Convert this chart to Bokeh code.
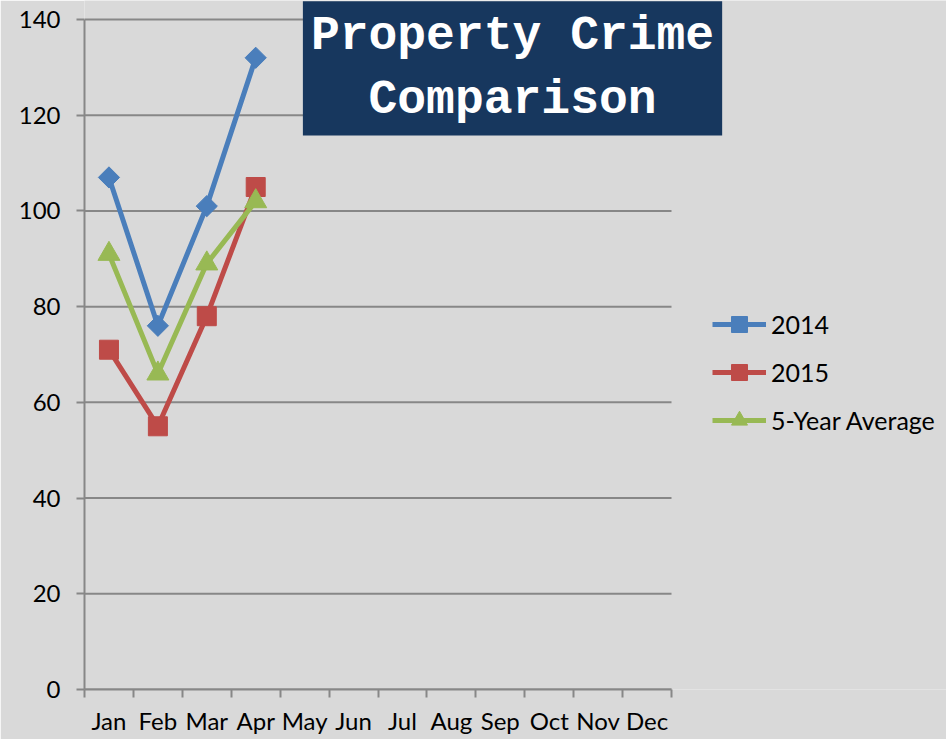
import math
from bokeh.plotting import figure
from bokeh.models import (Range1d, FixedTicker, LinearAxis, Legend, LegendItem, Label)
from bokeh.embed import file_html
from bokeh.resources import INLINE

# ---- data ----
months = ["Jan", "Feb", "Mar", "Apr", "May", "Jun", "Jul", "Aug", "Sep", "Oct", "Nov", "Dec"]
months_reported = ["Jan", "Feb", "Mar", "Apr"]
crimes_2014 = [107, 76, 101, 132]
crimes_2015 = [71, 55, 78, 105]
five_year_avg = [91, 66, 89, 102]
y_ticks = [0, 20, 40, 60, 80, 100, 120, 140]
title_text = "Property Crime\nComparison"

# category slot centres (category i occupies [i, i+1])
centre = {m: i + 0.5 for i, m in enumerate(months)}
x_rep = [centre[m] for m in months_reported]
n_months = len(months)
y_max = y_ticks[-1]

# ---- layout (pixels) ----
AXES_W, AXES_H = 587, 670          # size of the month/value axes area
FRAME_W, FRAME_H = 862, 689        # frame extends to the right & top to host title/legend
LEFT, BOTTOM = 84, 50

# ---- style ----
BG = "#d9d9d9"
GRID = "#878787"
C2014 = "#4a7ebb"
C2015 = "#be4b48"
CAVG = "#98b954"
FONT = "Lato"

p = figure(
    x_range=Range1d(0, n_months * FRAME_W / AXES_W),
    y_range=Range1d(0, y_max * FRAME_H / AXES_H),
    frame_width=FRAME_W, frame_height=FRAME_H,
    min_border_left=LEFT, min_border_right=0, min_border_top=0, min_border_bottom=BOTTOM,
    output_backend="svg", toolbar_location=None,
    x_axis_location=None,
    background_fill_color=BG, border_fill_color=BG,
    outline_line_color=None,
)

# grid lines (limited to the month span)
p.xgrid.visible = False
p.ygrid.visible = False
p.segment(x0=[0] * len(y_ticks), y0=y_ticks, x1=[n_months] * len(y_ticks), y1=y_ticks,
          line_color=GRID, line_width=2)

# y axis
yax = p.yaxis[0]
yax.ticker = FixedTicker(ticks=y_ticks)
yax.bounds = (0, y_max)
yax.axis_line_color = GRID
yax.axis_line_width = 2
yax.major_tick_line_color = GRID
yax.major_tick_line_width = 2
yax.major_tick_out = 8
yax.major_tick_in = 0
yax.minor_tick_line_color = None
yax.major_label_standoff = 16
yax.major_label_text_font = FONT
yax.major_label_text_font_size = "24px"
yax.major_label_text_color = "black"

# x axis: tick marks between categories
bounds = list(range(n_months + 1))
tick_axis = LinearAxis(
    ticker=FixedTicker(ticks=bounds),
    bounds=(0, n_months),
    major_label_overrides={b: "" for b in bounds},
    major_label_text_font_size="0px",
    major_label_standoff=0,
    axis_line_color=GRID, axis_line_width=2,
    major_tick_line_color=GRID, major_tick_line_width=2,
    major_tick_out=8, major_tick_in=0,
    minor_tick_line_color=None,
)
p.add_layout(tick_axis, "below")

label_axis = LinearAxis(
    ticker=FixedTicker(ticks=[centre[m] for m in months]),
    major_label_overrides={centre[m]: m for m in months},
    axis_line_color=None,
    major_tick_line_color=None,
    minor_tick_line_color=None,
    major_tick_out=0, major_tick_in=0,
    major_label_standoff=8,
    major_label_text_font=FONT,
    major_label_text_font_size="24px",
    major_label_text_color="black",
)
p.add_layout(label_axis, "below")

# series
l14 = p.line(x_rep, crimes_2014, line_color=C2014, line_width=5)
s14 = p.scatter(x_rep, crimes_2014, marker="square", angle=math.pi / 4, size=15,
                fill_color=C2014, line_color=C2014)
l15 = p.line(x_rep, crimes_2015, line_color=C2015, line_width=5)
s15 = p.scatter(x_rep, crimes_2015, marker="square", size=19,
                fill_color=C2015, line_color=C2015)
lav = p.line(x_rep, five_year_avg, line_color=CAVG, line_width=5)
sav = p.scatter(x_rep, five_year_avg, marker="triangle", size=22,
                fill_color=CAVG, line_color=CAVG)

legend = Legend(
    items=[
        LegendItem(label="2014", renderers=[l14, s14]),
        LegendItem(label="2015", renderers=[l15, s15]),
        LegendItem(label="5-Year Average", renderers=[lav, sav]),
    ],
    location=(628, 249),
    padding=0, margin=0,
    glyph_width=54, glyph_height=40, label_height=40,
    spacing=8, label_standoff=5,
    label_text_font=FONT, label_text_font_size="25px", label_text_color="black",
    background_fill_alpha=0, border_line_color=None,
)
p.add_layout(legend, "center")

title = Label(
    x=8.75, y=129.8,
    text=title_text,
    text_align="center", text_baseline="middle",
    text_font="Liberation Mono", text_font_style="bold", text_font_size="48px",
    text_color="white", text_line_height=1.19,
    background_fill_color="#17375e", background_fill_alpha=1.0,
    padding=8,
)
p.add_layout(title)

open("out.html", "w").write(file_html(p, INLINE))
